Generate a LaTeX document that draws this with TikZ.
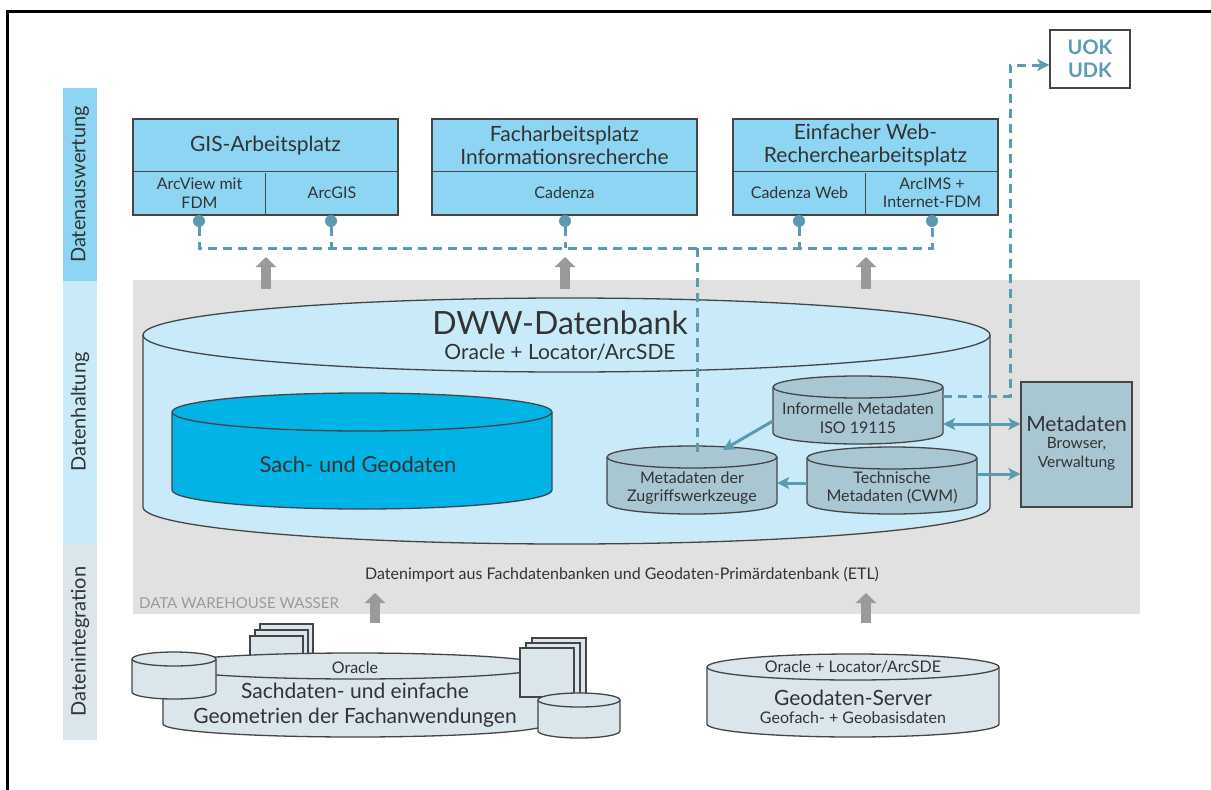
\documentclass[tikz,border=0pt]{standalone}
\usepackage{fontspec}
\setmainfont{Lato}
\usetikzlibrary{arrows.meta,positioning}

\definecolor{kastenblau}{HTML}{8DD5F2}
\definecolor{dbblau}{HTML}{C9EAF8}
\definecolor{sachblau}{HTML}{00B4E8}
\definecolor{metagrau}{HTML}{A9C6D3}
\definecolor{quellgrau}{HTML}{DAE5EC}
\definecolor{dwhgrau}{HTML}{E1E1E1}
\definecolor{linie}{HTML}{5C9AB0}
\definecolor{pfeilgrau}{HTML}{9A9A9A}
\definecolor{rahmen}{HTML}{454545}
\definecolor{schrift}{HTML}{333333}

% #1 fill, #2 x centre, #3 x radius, #4 y top, #5 y bottom, #6 y radius
\newcommand{\zyl}[6]{%
  \filldraw[umriss, fill=#1] (#2-#3,#4) -- (#2-#3,#5)
    arc[start angle=180, end angle=360, x radius=#3, y radius=#6] -- (#2+#3,#4)
    arc[start angle=0, end angle=180, x radius=#3, y radius=#6] -- cycle;
  \draw[umriss] (#2-#3,#4) arc[start angle=180, end angle=360, x radius=#3, y radius=#6];
}

\begin{document}
\begin{tikzpicture}[x=1pt, y=1pt, text=schrift, font={\fontsize{16}{18}\selectfont},
  umriss/.style={draw=rahmen, line width=1.3pt},
  kasten/.style={umriss, fill=kastenblau, minimum width=265pt, minimum height=96pt, inner sep=0pt},
  gross/.style={font={\fontsize{21}{23}\selectfont}, align=center, inner sep=0pt},
  klein/.style={font={\fontsize{16}{18.5}\selectfont}, align=center, inner sep=0pt},
  band/.style={rotate=90, minimum height=34pt, inner sep=0pt, font={\fontsize{20}{23}\selectfont}},
  punkt/.style={circle, fill=linie, minimum size=12pt, inner sep=0pt},
  strich/.style={draw=linie, line width=3pt, dash pattern=on 9pt off 6pt},
  spitze/.style={-{Stealth[length=12pt, width=12pt, inset=3pt]}},
  pfeil/.style={draw=linie, line width=3pt, spitze},
  doppelpfeil/.style={draw=linie, line width=3pt, {Stealth[length=12pt, width=12pt, inset=3pt]}-{Stealth[length=12pt, width=12pt, inset=3pt]}},
  blockpfeil/.style={draw=pfeilgrau, line width=10pt, -{Triangle[width=20pt, length=10pt]}},
  zyltext/.style={klein, minimum width=170pt}]

  \useasboundingbox (0,0) rectangle (1211,-790);
  \draw[line width=3pt, black] (7,-800) -- (7,-11) -- (1220,-11);

  % Schichten links
  \node[band, fill=kastenblau, minimum width=193pt] (b1) at (80,-184.5) {Datenauswertung};
  \node[band, fill=dbblau, minimum width=262pt] (b2) at (80,-412) {Datenhaltung};
  \node[band, fill=quellgrau, minimum width=197pt] (b3) at (80,-641.5) {Datenintegration};

  % Data Warehouse
  \node[fill=dwhgrau, minimum width=1007pt, minimum height=334pt, inner sep=0pt] (dwh) at (636.5,-447) {};
  \node[klein, anchor=west, text=pfeilgrau, font={\fontsize{15}{18}\selectfont}] (dwhname) at (139,-603) {DATA WAREHOUSE WASSER};
  \node[klein] (etl) at (622,-575) {Datenimport aus Fachdatenbanken und Geodaten-Primärdatenbank (ETL)};

  % Arbeitsplaetze
  \node[kasten] (gis) at (265.5,-167) {};
  \draw[umriss] ([yshift=-53pt]gis.north west) -- ([yshift=-53pt]gis.north east);
  \draw[umriss] (gis.south) -- ++(0,43);
  \node[gross] (gistitel) at (265.5,-146) {GIS-Arbeitsplatz};
  \node[klein] (arcview) at (199.5,-193) {ArcView mit\\FDM};
  \node[klein] (arcgis) at (332,-193) {ArcGIS};

  \node[kasten] (fach) at (564.5,-167) {};
  \draw[umriss] ([yshift=-53pt]fach.north west) -- ([yshift=-53pt]fach.north east);
  \node[gross] (fachtitel) at (564.5,-145.5) {Facharbeitsplatz\\Informationsrecherche};
  \node[klein] (cadenza) at (564.5,-193) {Cadenza};

  \node[kasten] (web) at (865.5,-167) {};
  \draw[umriss] ([yshift=-53pt]web.north west) -- ([yshift=-53pt]web.north east);
  \draw[umriss] (web.south) -- ++(0,43);
  \node[gross] (webtitel) at (865.5,-145.5) {Einfacher Web-\\Recherchearbeitsplatz};
  \node[klein] (cadweb) at (799.5,-193) {Cadenza Web};
  \node[klein] (arcims) at (932,-193) {ArcIMS +\\Internet-FDM};

  \node[umriss, fill=white, minimum width=80pt, minimum height=58pt, text=linie, align=center,
    font={\fontsize{20}{23}\selectfont\bfseries}] (uok) at (1090,-59) {UOK\\UDK};

  % DWW-Datenbank
  \zyl{dbblau}{566.5}{423.5}{-335}{-507}{37}
  \node[font={\fontsize{32}{36}\selectfont}, inner sep=0pt] (dww) at (560,-323) {DWW-Datenbank};
  \node[gross] (dwwsub) at (560,-352) {Oracle + Locator/ArcSDE};

  \zyl{sachblau}{362}{190}{-412}{-490}{19}
  \node[gross, font={\fontsize{22}{24}\selectfont}] (sach) at (358,-464) {Sach- und Geodaten};

  \zyl{metagrau}{858}{85}{-387}{-433}{11}
  \node[zyltext] (infmeta) at (858,-418) {Informelle Metadaten\\ISO 19115};
  \zyl{metagrau}{692}{85}{-457}{-503}{11}
  \node[zyltext] (zugriff) at (692,-488) {Metadaten der\\Zugriffswerkzeuge};
  \zyl{metagrau}{892}{85}{-458}{-503}{11}
  \node[zyltext] (technisch) at (892,-488) {Technische\\Metadaten (CWM)};

  \node[umriss, fill=metagrau, minimum width=111pt, minimum height=125pt, inner sep=0pt] (metabox) at (1076.5,-444.5) {};
  \node[gross, font={\fontsize{21}{23}\selectfont}] (metatitel) at (1076.5,-424) {Metadaten};
  \node[klein, font={\fontsize{15.5}{19}\selectfont}] (metasub) at (1076.5,-453.5) {Browser,\\Verwaltung};

  % Verbindungen
  \coordinate (bus) at (0,-248);
  \foreach \n/\x in {p1/199, p2/331, p3/565, p4/799, p5/932}
    \node[punkt] (\n) at (\x,-221) {};
  \draw[strich] (p1) -- (p1 |- bus) -- (p5 |- bus) -- (p5);
  \foreach \n in {p2,p3,p4}
    \draw[strich] (\n) -- (\n |- bus);
  \coordinate (zgoben) at (697,-452);
  \draw[strich] (zgoben |- bus) -- (zgoben);
  \coordinate (ecke) at (1010,-65);
  \draw[strich, spitze] ([yshift=22pt]infmeta.east) -| (ecke) -- (ecke -| uok.west);

  \coordinate (zgpfeil) at (723,-450);
  \draw[pfeil] ([yshift=-3pt]infmeta.west) -- (zgpfeil);
  \draw[pfeil] ([yshift=5pt]technisch.west) -- ([yshift=5pt]zugriff.east);
  \draw[doppelpfeil] ([yshift=-6pt]infmeta.east) -- ([yshift=-6pt]infmeta.east -| metabox.west);
  \draw[pfeil] ([yshift=14pt]technisch.east) -- ([yshift=14pt]technisch.east -| metabox.west);

  \foreach \x in {266,565,866} {
    \coordinate (oben\x) at (\x,-289);
    \draw[blockpfeil] (oben\x) -- ++(0,32);
  }
  \foreach \x in {375,866} {
    \coordinate (unten\x) at (\x,-623);
    \draw[blockpfeil] (unten\x) -- ++(0,30);
  }

  % Quellen
  \foreach \d in {2,1,0}
    \draw[umriss, fill=quellgrau] (250+5*\d,-636+6*\d) rectangle (303+5*\d,-662);
  \zyl{quellgrau}{355}{192}{-666}{-724}{13}
  \zyl{quellgrau}{174}{42}{-659}{-692}{7}
  \foreach \d in {2,1,0}
    \draw[umriss, fill=quellgrau] (520+6*\d,-648+5*\d) rectangle (574+6*\d,-697);
  \zyl{quellgrau}{579}{41}{-700}{-731}{7}
  \node[klein] (oracle) at (355,-668) {Oracle};
  \node[gross, font={\fontsize{21}{25}\selectfont}] (sachdaten) at (355,-705.5) {Sachdaten- und einfache\\Geometrien der Fachanwendungen};

  \zyl{quellgrau}{853}{146}{-667}{-724}{13}
  \node[klein] (geooracle) at (853,-667) {Oracle + Locator/ArcSDE};
  \node[gross, font={\fontsize{21}{23}\selectfont}] (geoserver) at (853,-698) {Geodaten-Server};
  \node[klein] (geofach) at (853,-718) {Geofach- + Geobasisdaten};
\end{tikzpicture}
\end{document}
